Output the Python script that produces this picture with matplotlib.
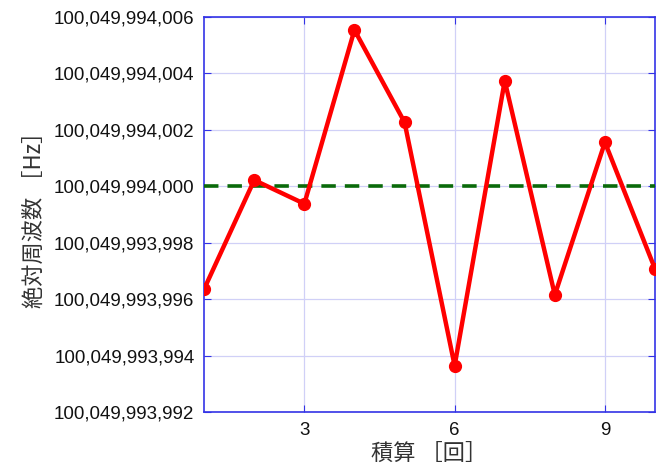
import numpy as np
import matplotlib.pyplot as plt
from matplotlib.ticker import FuncFormatter

# data
count = [1, 2, 3, 4, 5, 6, 7, 8, 9, 10]
freq = [100049993996.36, 100049994000.22, 100049993999.38, 100049994005.54,
        100049994002.27, 100049993993.64, 100049994003.74, 100049993996.15,
        100049994001.56, 100049993997.07]
ref_freq = 100049994000.0
xticks = [3, 6, 9]
yticks = [100049993992, 100049993994, 100049993996, 100049993998,
          100049994000, 100049994002, 100049994004, 100049994006]

plt.rcParams['font.family'] = ['Liberation Sans', 'Noto Sans CJK JP']

fig = plt.figure(figsize=(6.65, 4.7), dpi=100)
ax = fig.add_axes([0.307, 0.1234, 0.678, 0.8404])

ax.plot([count[0], count[-1]], [ref_freq, ref_freq], '--', color='#0a6a0a', lw=2.6, dashes=(4, 2.5), zorder=3)
ax.plot(count, freq, '-o', color='#ff0000', lw=3.2, markersize=8.5, zorder=4)

ax.set_xlim(1, 10)
ax.set_ylim(yticks[0], yticks[-1])
ax.set_xticks(xticks)
ax.set_yticks(yticks)
ax.yaxis.set_major_formatter(FuncFormatter(lambda v, p: f"{v:,.0f}"))

blue = '#3333e6'
for s in ax.spines.values():
    s.set_color(blue)
    s.set_linewidth(1.2)
ax.tick_params(direction='in', length=5, color=blue, top=True, right=True,
               labelsize=13.5, pad=7, labelcolor='#111111')
ax.grid(True, color='#d0d0f7', lw=0.9)

ax.set_ylabel('絶対周波数 ［Hz］', family=['Noto Sans CJK JP'], fontsize=16, color='#333333', labelpad=6)
ax.set_xlabel('積算 ［回］', family=['Noto Sans CJK JP'], fontsize=16, color='#333333', labelpad=2)

fig.savefig('out.png', dpi=100)
